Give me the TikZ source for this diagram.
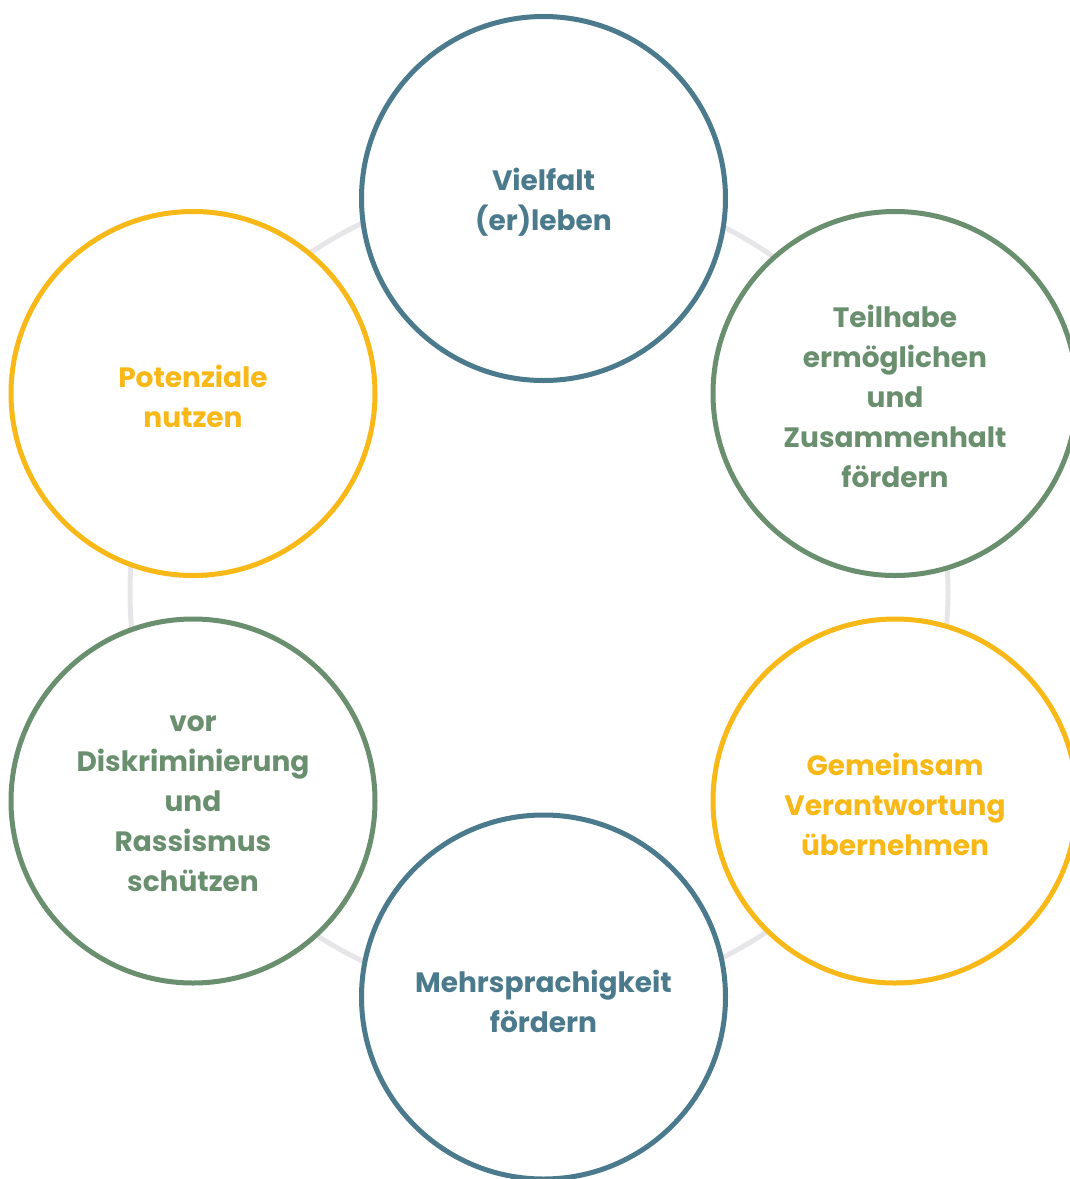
\documentclass[tikz,border=0pt]{standalone}
\usepackage{fontspec}
\setmainfont{Poppins}
\definecolor{cblue}{HTML}{4A7A8C}
\definecolor{cgreen}{HTML}{6A8F6F}
\definecolor{cyellow}{HTML}{F8B817}
\definecolor{cring}{HTML}{E6E6E8}
\begin{document}
\begin{tikzpicture}[x=1pt,y=-1pt,
  bubble/.style={circle, draw=#1, line width=5pt, fill=white,
    minimum size=364pt, inner sep=0pt},
  caption/.style={text=#1, inner sep=0pt, align=center,
    font=\fontsize{28}{40}\selectfont\bfseries}]
\useasboundingbox (0,0) rectangle (1070,1179);
\coordinate (c) at (539,592);
\draw[cring, line width=5pt] (c) circle[radius=409pt];
\node[bubble=cblue] (top) at (543.5,198.5) {};
\node[bubble=cgreen] (tr) at (895,393.5) {};
\node[bubble=cyellow] (br) at (895,801) {};
\node[bubble=cblue] (bot) at (543.5,997) {};
\node[bubble=cgreen] (bl) at (193,801) {};
\node[bubble=cyellow] (tl) at (193,393.5) {};
\node[caption=cblue] (ttop) at ([yshift=-4pt]top.center) {Vielfalt\\(er)leben};
\node[caption=cgreen] (ttr) at ([yshift=-3pt]tr.center) {Teilhabe\\ermöglichen\\und\\Zusammenhalt\\fördern};
\node[caption=cyellow] (tbr) at ([yshift=-3pt]br.center) {Gemeinsam\\Verantwortung\\übernehmen};
\node[caption=cblue] (tbot) at ([yshift=-4pt]bot.center) {Mehrsprachigkeit\\fördern};
\node[caption=cgreen] (tbl) at ([yshift=-3pt]bl.center) {vor\\Diskriminierung\\und\\Rassismus\\schützen};
\node[caption=cyellow] (ttl) at ([yshift=-3pt]tl.center) {Potenziale\\nutzen};
\end{tikzpicture}
\end{document}
